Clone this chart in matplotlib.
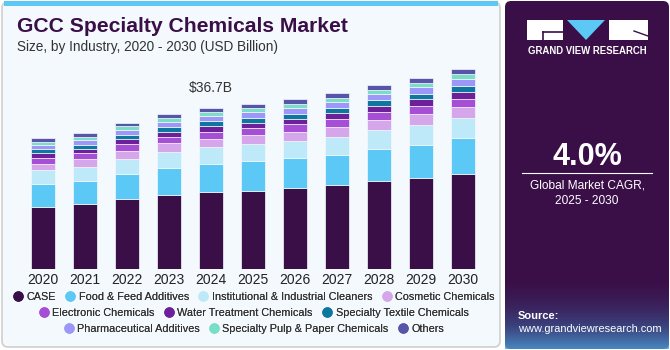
import numpy as np
import matplotlib
matplotlib.use("Agg")
import matplotlib.pyplot as plt
from matplotlib.patches import FancyBboxPatch, Rectangle, Polygon
from matplotlib.lines import Line2D

plt.rcParams['font.family'] = ['Liberation Sans', 'DejaVu Sans']

# Donnees (USD milliards)
years = ["2020", "2021", "2022", "2023", "2024", "2025", "2026", "2027", "2028", "2029", "2030"]
case = [14.17, 14.72, 15.86, 16.84, 17.52, 17.81, 18.36, 19.04, 19.95, 20.70, 21.68]
food = [5.16, 5.37, 5.76, 6.21, 6.37, 6.69, 6.89, 6.96, 7.42, 7.58, 8.05]
cleaners = [3.12, 3.12, 3.41, 3.57, 3.80, 3.87, 3.87, 4.10, 4.25, 4.55, 4.62]
cosmetic = [1.50, 1.75, 1.89, 1.98, 1.96, 2.05, 2.12, 2.21, 2.28, 2.37, 2.50]
electronic = [1.37, 1.37, 1.46, 1.43, 1.59, 1.66, 1.68, 1.75, 1.82, 1.89, 1.89]
water = [1.00, 1.05, 1.14, 1.21, 1.30, 1.21, 1.27, 1.37, 1.43, 1.52, 1.59]
textile = [0.91, 0.91, 1.05, 1.14, 1.14, 1.14, 1.14, 1.21, 1.23, 1.27, 1.37]
pharma = [0.98, 1.07, 1.14, 1.07, 1.14, 1.23, 1.23, 1.37, 1.43, 1.46, 1.52]
pulp = [0.68, 0.75, 0.77, 0.91, 0.91, 0.91, 1.05, 0.98, 0.98, 0.98, 1.14]
others = [0.84, 0.77, 0.75, 0.84, 0.98, 0.98, 1.00, 1.00, 1.07, 1.07, 1.07]

labels = ["CASE", "Food & Feed Additives", "Institutional & Industrial Cleaners",
          "Cosmetic Chemicals", "Electronic Chemicals", "Water Treatment Chemicals",
          "Specialty Textile Chemicals", "Pharmaceutical Additives",
          "Specialty Pulp & Paper Chemicals", "Others"]
series = [case, food, cleaners, cosmetic, electronic, water, textile, pharma, pulp, others]
colors = ["#3A0F48", "#5BC8F5", "#BDE9F9", "#D5A6EA", "#A64FD6", "#6E1F9A",
          "#0E77A0", "#9C97F8", "#7ADDC8", "#5755A8"]

highlight_idx = 4
highlight_text = "$36.7B"

W, H = 670, 350
fig = plt.figure(figsize=(W / 100, H / 100), dpi=100)
fig.patch.set_facecolor("white")

# fond en coordonnees pixel
bg = fig.add_axes([0, 0, 1, 1])
bg.axis("off")

bg.add_patch(FancyBboxPatch((2, 2), 498, 345, boxstyle="round,pad=0,rounding_size=6",
                            fc="#F4F9FD", ec="#CFCFCF", lw=1.2))
bg.add_patch(Rectangle((4, 1), 494, 4.5, fc="#5BC8F5", ec="none"))

# panneau droit
bg.add_patch(FancyBboxPatch((505, 1), 164, 348, boxstyle="round,pad=0,rounding_size=6",
                            fc="#3A0F48", ec="none"))
grad = np.linspace(0, 1, 100).reshape(-1, 1) ** 1.8
cmap = matplotlib.colors.LinearSegmentedColormap.from_list("g", ["#3A0F48", "#3B4A86", "#4A9ED6"])
bg.imshow(grad, extent=(505, 669, 349, 275), cmap=cmap, aspect="auto", alpha=0.85, zorder=2)
bg.set_xlim(0, W)
bg.set_ylim(H, 0)

# logo
bg.add_patch(Rectangle((527, 20), 36, 20, fc="white", ec="none", zorder=3))
bg.add_patch(Polygon([(567, 20), (605, 20), (586, 40)], closed=True, fc="#5BC8F5", ec="none", zorder=3))
bg.add_patch(Rectangle((609, 20), 39, 20, fc="white", ec="none", zorder=3))
bg.plot([543, 563], [32, 32], color="#3A0F48", lw=1.2, zorder=4)
bg.plot([543, 543], [32, 40], color="#3A0F48", lw=1.2, zorder=4)
bg.plot([634, 648], [31, 36], color="#3A0F48", lw=1, zorder=4)
bg.text(587, 51, "GRAND VIEW RESEARCH", color="white", fontsize=6.9, fontweight="bold",
        ha="center", va="center", zorder=4)

bg.text(587, 157, "4.0%", color="white", fontsize=22, fontweight="bold", ha="center", va="center", zorder=4)
bg.plot([522, 652], [173, 173], color="white", lw=0.8, zorder=4)
bg.text(587, 186, "Global Market CAGR,", color="white", fontsize=8.6, ha="center", va="center", zorder=4)
bg.text(587, 201, "2025 - 2030", color="white", fontsize=8.6, ha="center", va="center", zorder=4)
bg.text(518, 316, "Source:", color="white", fontsize=8, fontweight="bold", ha="left", va="center", zorder=4)
bg.text(518, 329, "www.grandviewresearch.com", color="white", fontsize=7.9, ha="left", va="center", zorder=4)

# titres
bg.text(17, 27, "GCC Specialty Chemicals Market", color="#3A0F48", fontsize=15.2,
        fontweight="bold", ha="left", va="center")
bg.text(17, 47, "Size, by Industry, 2020 - 2030 (USD Billion)", color="#333333", fontsize=9.8,
        ha="left", va="center")

# graphique
ax = fig.add_axes([17.8 / W, 1 - 269 / H, 470 / W, 209 / H])
ax.set_facecolor("none")
x = np.arange(len(years))
bottom = np.zeros(len(years))
for vals, c, lab in zip(series, colors, labels):
    ax.bar(x, vals, bottom=bottom, width=0.57, color=c, edgecolor="#F4F9FD", linewidth=0.5, label=lab)
    bottom += np.array(vals)

ax.set_xlim(-0.6, 10.6)
ax.set_ylim(0, 209 * 36.7 / 161.3)
ax.set_xticks(x)
ax.set_xticklabels(years, fontsize=10, color="#222222")
ax.tick_params(axis="x", length=0, pad=3)
ax.set_yticks([])
for s in ax.spines.values():
    s.set_visible(False)

ax.text(highlight_idx, bottom[highlight_idx] + 2.8, highlight_text, ha="center", va="bottom",
        fontsize=10, color="#333333")

# legende
handles = [Line2D([0], [0], marker="o", linestyle="none", markersize=7.5,
                  markerfacecolor=c, markeredgecolor="none") for c in colors]
rows = [[0, 1, 2, 3], [4, 5, 6], [7, 8, 9]]
row_y = [297, 313, 329]
for r, yy in zip(rows, row_y):
    leg = fig.legend([handles[i] for i in r], [labels[i] for i in r], loc="center",
                     bbox_to_anchor=(253 / W, 1 - yy / H), ncol=len(r), frameon=False,
                     fontsize=7.8, handletextpad=0.15, columnspacing=0.75, handlelength=1.2,
                     borderpad=0, labelcolor="#333333")
    fig.add_artist(leg)

plt.savefig("out.png", dpi=100, facecolor=fig.get_facecolor())
